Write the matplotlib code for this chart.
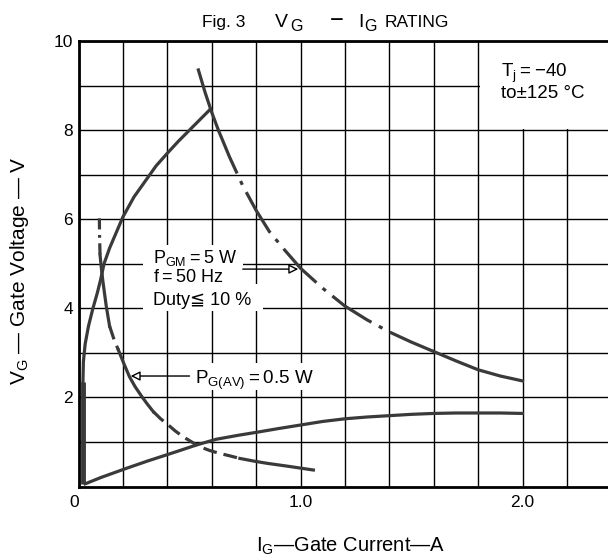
import numpy as np
import matplotlib
matplotlib.use("Agg")
import matplotlib.pyplot as plt
from matplotlib.patches import Rectangle

plt.rcParams['font.family'] = ['Liberation Sans', 'DejaVu Sans']
plt.rcParams['mathtext.fontset'] = 'custom'
plt.rcParams['mathtext.rm'] = 'Liberation Sans'
plt.rcParams['lines.scale_dashes'] = False

# curve data (I_G in A, V_G in V)
# upper left boundary
vmax_i = [0.02, 0.022, 0.03, 0.045, 0.065, 0.085, 0.1, 0.115, 0.14, 0.17, 0.2,
          0.25, 0.3, 0.35, 0.4, 0.45, 0.5, 0.55, 0.59]
vmax_v = [2.35, 2.8, 3.2, 3.6, 4.0, 4.35, 4.65, 5.0, 5.35, 5.7, 6.05,
          6.5, 6.85, 7.2, 7.48, 7.75, 8.0, 8.25, 8.45]

# left vertical boundary
vert_i = [0.02, 0.02]
vert_v = [0.06, 2.35]

# P_GM = 5 W
pgm_i = [0.54, 0.57, 0.6, 0.63, 0.68, 0.74, 0.8, 0.86, 0.93, 1.0, 1.1, 1.2,
         1.3, 1.4, 1.5, 1.6, 1.7, 1.8, 1.9, 2.0]
pgm_v = [9.35, 8.85, 8.4, 8.0, 7.4, 6.75, 6.2, 5.72, 5.3, 4.9, 4.45, 4.05,
         3.74, 3.47, 3.24, 3.03, 2.82, 2.62, 2.48, 2.37]

# P_G(AV) = 0.5 W
pav_i = [0.094, 0.095, 0.097, 0.103, 0.11, 0.125, 0.14, 0.16, 0.18, 0.205,
         0.23, 0.255, 0.285, 0.31, 0.337, 0.37, 0.4, 0.435, 0.47, 0.51,
         0.547, 0.59, 0.63, 0.68, 0.727, 0.79, 0.85, 0.95, 1.058]
pav_v = [6.02, 5.6, 5.2, 4.9, 4.6, 4.05, 3.6, 3.3, 3.06, 2.75,
         2.46, 2.24, 2.02, 1.85, 1.68, 1.52, 1.4, 1.25, 1.12, 1.0,
         0.89, 0.81, 0.75, 0.69, 0.63, 0.57, 0.52, 0.45, 0.37]

# lower boundary
low_i = [0.03, 0.06, 0.1, 0.15, 0.217, 0.31, 0.409, 0.47, 0.53, 0.62, 0.72,
         0.818, 0.9, 1.0, 1.1, 1.2, 1.3, 1.4, 1.5, 1.6, 1.7, 1.8, 1.9, 2.0]
low_v = [0.06, 0.12, 0.2, 0.29, 0.41, 0.57, 0.73, 0.83, 0.93, 1.06, 1.15,
         1.23, 1.3, 1.38, 1.46, 1.52, 1.56, 1.59, 1.62, 1.64, 1.65, 1.65, 1.65, 1.64]

x_ticks = [0, 1.0, 2.0]
x_ticklabels = ['0', '1.0', '2.0']
y_ticks = [2, 4, 6, 8, 10]
y_ticklabels = ['2', '4', '6', '8', '10']

W, H = 608, 560
fig = plt.figure(figsize=(W / 100, H / 100), dpi=100)
ax = fig.add_axes([78.5 / W, (H - 486.5) / H, 2.4 * 222 / W, 445.5 / H])

ax.set_xlim(0, 2.4)
ax.set_ylim(0, 10)
ax.set_xticks(x_ticks)
ax.set_xticklabels(x_ticklabels)
ax.set_xticks(np.arange(0.2, 2.4, 0.2), minor=True)
ax.set_yticks(y_ticks)
ax.set_yticklabels(y_ticklabels)
ax.set_yticks([1, 3, 5, 7, 9], minor=True)
ax.tick_params(which='both', length=0, labelsize=12.5)
ax.tick_params(axis='x', pad=6)
ax.tick_params(axis='y', pad=4)
ax.get_xticklabels()[0].set_ha('right')
ax.set_axisbelow(True)
ax.grid(which='both', color='black', lw=1.0)
for s in ax.spines.values():
    s.set_linewidth(2)

# white areas that hide the grid behind the notes
ax.add_patch(Rectangle((1.81, 8.03), 0.7, 1.94, fc='white', ec='none', zorder=1))
ax.add_patch(Rectangle((0.29, 3.93), 0.45, 1.49, fc='white', ec='none', zorder=1))
ax.add_patch(Rectangle((0.29, 3.93), 0.54, 0.62, fc='white', ec='none', zorder=1))
ax.add_patch(Rectangle((0.51, 2.16), 0.55, 0.62, fc='white', ec='none', zorder=1))

col = '#3a3a3a'
lw = 2.3
dashdot = (0, (34, 6, 3, 6))
dash = (0, (10, 5))

ax.plot(vert_i, vert_v, color=col, lw=3.5, solid_capstyle='butt', zorder=3)
ax.plot(vmax_i, vmax_v, color=col, lw=lw, zorder=3)
ax.plot(low_i, low_v, color=col, lw=lw, zorder=3)

# P_GM: solid at both ends, dash-dot in between
ax.plot(pgm_i[:4], pgm_v[:4], color=col, lw=lw, zorder=3)
ax.plot(pgm_i[3:16], pgm_v[3:16], color=col, lw=lw, ls=dashdot, zorder=3)
ax.plot(pgm_i[15:], pgm_v[15:], color=col, lw=lw, zorder=3)

# P_G(AV): solid and dashed pieces
ax.plot(pav_i[:3], pav_v[:3], color=col, lw=lw, ls=(0, (8, 4, 2, 4)), zorder=3)
ax.plot(pav_i[2:7], pav_v[2:7], color=col, lw=lw, zorder=3)
ax.plot(pav_i[6:9], pav_v[6:9], color=col, lw=lw, ls=dash, zorder=3)
ax.plot(pav_i[8:15], pav_v[8:15], color=col, lw=lw, zorder=3)
ax.plot(pav_i[14:25], pav_v[14:25], color=col, lw=lw, ls=dash, zorder=3)
ax.plot(pav_i[24:], pav_v[24:], color=col, lw=lw, zorder=3)

# notes
fs = 13
ax.text(0.335, 5.02, '$\\mathregular{P_{GM}}$$=$5 W', fontsize=fs, ha='left', va='baseline')
ax.text(0.335, 4.6, 'f$=$50 Hz', fontsize=fs, ha='left', va='baseline')
ax.text(0.335, 4.07, 'Duty\u2266 10 %', fontsize=fs, ha='left', va='baseline')
ax.annotate('', xy=(0.99, 4.88), xytext=(0.74, 4.88), zorder=4,
            arrowprops=dict(arrowstyle='-|>', fc='white', ec='black', lw=1,
                            mutation_scale=14, shrinkA=0, shrinkB=0))

ax.text(0.525, 2.3, '$\\mathregular{P_{G(AV)}}$$=$0.5 W', fontsize=13.5,
        ha='left', va='baseline')
ax.annotate('', xy=(0.235, 2.48), xytext=(0.5, 2.48), zorder=4,
            arrowprops=dict(arrowstyle='-|>', fc='white', ec='black', lw=1,
                            mutation_scale=14, shrinkA=0, shrinkB=0))

ax.text(1.905, 9.2, '$\\mathregular{T_j}$$=-$40', fontsize=13.5, ha='left', va='baseline')
ax.text(1.905, 8.72, 'to\u00b1125 \u00b0C', fontsize=13.5, ha='left', va='baseline')

# title, placed piece by piece to follow the wide spacing
ty = 1 - 26.7 / H
ty_sub = 1 - 31 / H
fig.text(201.7 / W, ty, 'Fig. 3', fontsize=12.5, ha='left', va='baseline')
fig.text(275 / W, ty, 'V', fontsize=14, ha='left', va='baseline')
fig.text(290 / W, ty_sub, 'G', fontsize=11.5, ha='left', va='baseline')
fig.text(330 / W, ty, '\u2212', fontsize=17, ha='left', va='baseline')
fig.text(358 / W, ty, 'I', fontsize=14, ha='left', va='baseline')
fig.text(364 / W, ty_sub, 'G', fontsize=11.5, ha='left', va='baseline')
fig.text(385 / W, ty, 'RATING', fontsize=12.5, ha='left', va='baseline')

fig.text(20 / W, 1 - 271 / H, '$\\mathregular{V_G}$ \u2014 Gate Voltage \u2014 V',
         fontsize=15, rotation=90, ha='center', va='center')
fig.text(351 / W, 1 - 546 / H, '$\\mathregular{I_G}$\u2014Gate Current\u2014A',
         fontsize=14.5, ha='center', va='center')

fig.savefig('out.png', dpi=100)
